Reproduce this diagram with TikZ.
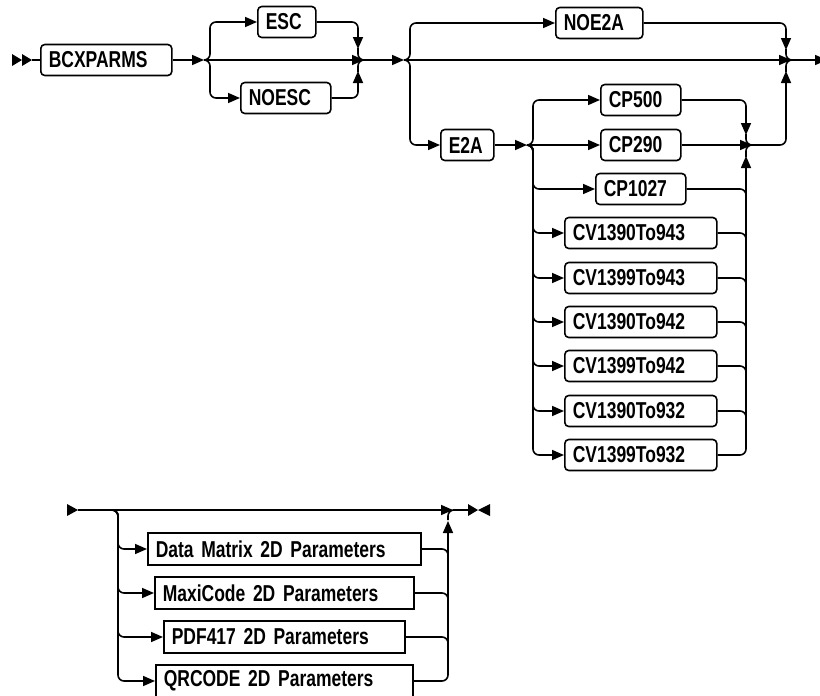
\documentclass[tikz,border=0pt]{standalone}
\usepackage{fontspec}
\setmainfont{Liberation Sans}[FakeStretch=0.76]
\usetikzlibrary{arrows.meta}
\begin{document}
\begin{tikzpicture}[x=1pt,y=-1pt,
  line width=1.6pt,
  tip/.style={-{Triangle[length=12pt,width=10pt]}},
  kw/.style={draw, rounded corners=4pt, minimum height=31pt, inner xsep=8pt, inner ysep=0pt,
             anchor=west, align=left, font=\bfseries\fontsize{23}{25}\selectfont},
  sq/.style={kw, rounded corners=0pt, minimum height=32pt},
  rc/.style={rounded corners=6pt}]
\useasboundingbox (0,0) rectangle (820,696);

% ---------- top row ----------
\fill (12,54) -- (22,60) -- (12,66) -- cycle;
\fill (22,54) -- (32,60) -- (22,66) -- cycle;
\coordinate (s0) at (32,60);
\node[kw, text width=115pt] (bcx) at (40,60) {BCXPARMS};
\draw (s0) -- (bcx.west);

\coordinate (j1) at (204,60);
\coordinate (m1) at (364,60);
\node[kw, text width=42pt] (esc) at (257,22) {ESC};
\node[kw, text width=74pt] (noesc) at (240,98) {NOESC};
\draw[tip] (bcx.east) -- (j1);
\draw[tip,rc] (j1) -| (210,22) -- (esc.west);
\draw[tip,rc] (j1) -| (210,98) -- (noesc.west);
\draw[tip] (j1) -- (m1);
\draw[tip,rc] (esc.east) -| (358,49);
\draw[rc] (358,48) |- (m1);
\draw[tip,rc] (noesc.east) -| (358,71);
\draw[rc] (358,72) |- (m1);

\coordinate (j2) at (404,60);
\coordinate (m2) at (791,60);
\draw[tip] (m1) -- (j2);
\node[kw, text width=71pt] (noe2a) at (555,23) {NOE2A};
\node[kw, text width=37pt] (e2a) at (440,145) {E2A};
\draw[tip,rc] (j2) -| (410,23) -- (noe2a.west);
\draw[tip,rc] (j2) -| (410,145) -- (e2a.west);
\draw[tip] (j2) -- (m2);
\draw[tip,rc] (noe2a.east) -| (786,50);
\draw[rc] (786,49) |- (m2);
\coordinate (e1) at (827,60);
\draw[tip] (m2) -- (e1);

% ---------- E2A choices ----------
\coordinate (j3) at (527,145);
\coordinate (m3) at (752,145);
\draw[tip] (e2a.east) -- (j3);
\node[kw, text width=64pt] (cp500) at (600,100) {CP500};
\node[kw, text width=64pt] (cp290) at (600,145) {CP290};
\node[kw, text width=74pt] (cp1027) at (595,189) {CP1027};
\node[kw, text width=136pt] (cv1) at (564,233) {CV1390To943};
\node[kw, text width=136pt] (cv2) at (564,278) {CV1399To943};
\node[kw, text width=136pt] (cv3) at (564,322) {CV1390To942};
\node[kw, text width=136pt] (cv4) at (564,366) {CV1399To942};
\node[kw, text width=136pt] (cv5) at (564,411) {CV1390To932};
\node[kw, text width=136pt] (cv6) at (564,455) {CV1399To932};

\draw[tip,rc] (j3) -| (533,100) -- (cp500.west);
\draw[tip] (j3) -- (cp290.west);
\foreach \n in {cp1027,cv1,cv2,cv3,cv4,cv5,cv6}
  \draw[tip,rc] (j3) -| (533,0 |- \n.west) -- (\n.west);

\draw[tip,rc] (cp500.east) -| (746,135);
\draw[rc] (746,134) |- (m3);
\draw[tip] (cp290.east) -- (m3);
\foreach \n in {cp1027,cv1,cv2,cv3,cv4,cv5}
  \draw[rc] (\n.east) -| ([yshift=-14pt]746,0 |- \n.east);
\draw[tip,rc] (cv6.east) -| (746,156);
\draw[rc] (746,157) |- (m3);
\draw[tip,rc] (m3) -| (786,71);
\draw[rc] (786,72) |- (m2);

% ---------- bottom row ----------
\fill (67,504) -- (78,510) -- (67,516) -- cycle;
\coordinate (b0) at (78,510);
\coordinate (bj) at (112,510);
\coordinate (m4) at (453,510);
\draw[tip] (b0) -- (m4);
\node[sq, text width=257pt] (dm) at (147,549) {Data Matrix 2D Parameters};
\node[sq, text width=243pt] (maxi) at (154,593) {MaxiCode 2D Parameters};
\node[sq, text width=225pt] (pdf) at (163,637) {PDF417 2D Parameters};
\node[sq, text width=241pt] (qr) at (155,681) {QRCODE 2D Parameters};
\foreach \n in {dm,maxi,pdf,qr}
  \draw[tip,rc] (bj) -| (118,0 |- \n.west) -- (\n.west);
\foreach \n in {dm,maxi,pdf}
  \draw[rc] (\n.east) -| ([yshift=-14pt]448,0 |- \n.east);
\draw[tip,rc] (qr.east) -| (448,521);
\draw[rc] (448,520) |- (m4);
\coordinate (bend) at (468,510);
\draw (m4) -- (bend);
\fill (468,504) -- (478,510) -- (468,516) -- cycle;
\fill (490,504) -- (478,510) -- (490,516) -- cycle;
\end{tikzpicture}
\end{document}
